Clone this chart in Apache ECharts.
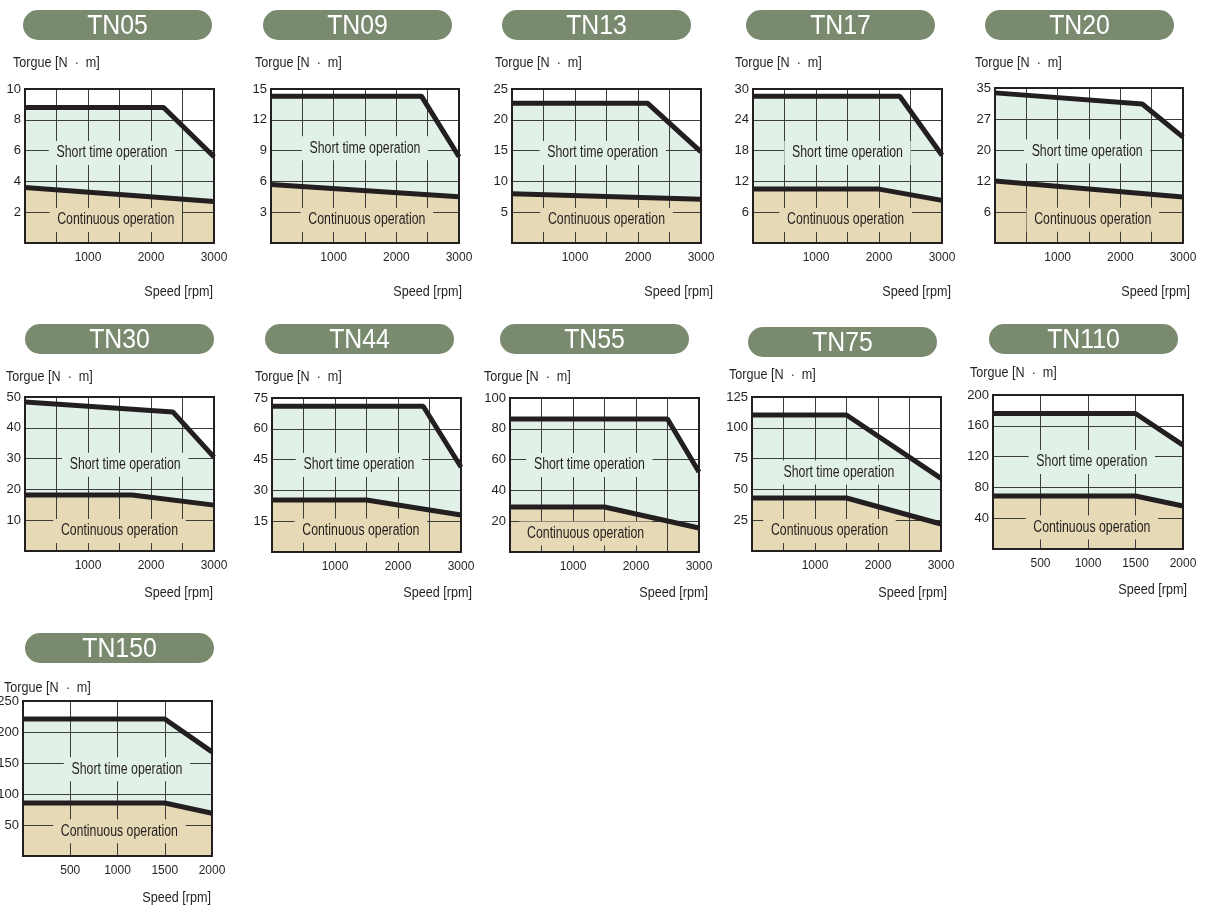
<!DOCTYPE html>
<html>
<head>
<meta charset="utf-8">
<title>TN torque curves</title>
<script src="https://cdn.jsdelivr.net/npm/echarts@6/dist/echarts.min.js"></script>
<style>
  html, body { margin: 0; padding: 0; background: #fff; }
  #main { width: 1208px; height: 908px; }
</style>
</head>
<body>
<div id="main"></div>
<script>
// --- data ---
const models = ['TN05', 'TN09', 'TN13', 'TN17', 'TN20', 'TN30', 'TN44', 'TN55', 'TN75', 'TN110', 'TN150'];
const maxSpeed = [3000, 3000, 3000, 3000, 3000, 3000, 3000, 3000, 3000, 2000, 2000];
const maxTorque = [10, 15, 25, 30, 35, 50, 75, 100, 125, 200, 250];
const torqueTicks = [
  ['2', '4', '6', '8', '10'],
  ['3', '6', '9', '12', '15'],
  ['5', '10', '15', '20', '25'],
  ['6', '12', '18', '24', '30'],
  ['6', '12', '20', '27', '35'],
  ['10', '20', '30', '40', '50'],
  ['15', '30', '45', '60', '75'],
  ['20', '40', '60', '80', '100'],
  ['25', '50', '75', '100', '125'],
  ['40', '80', '120', '160', '200'],
  ['50', '100', '150', '200', '250']
];
// short time operation limit  [speed, torque]
const shortTime = [
  [[0, 8.8], [2200, 8.8], [3000, 5.6]],
  [[0, 14.3], [2400, 14.3], [3000, 8.4]],
  [[0, 22.7], [2150, 22.7], [3000, 14.8]],
  [[0, 28.6], [2330, 28.6], [3000, 17.1]],
  [[0, 33.9], [2350, 31.4], [3000, 23.9]],
  [[0, 48.4], [2350, 45.1], [3000, 30.5]],
  [[0, 71], [2400, 71], [3000, 41.4]],
  [[0, 86.4], [2500, 86.4], [3000, 52]],
  [[0, 110.4], [1500, 110.4], [3000, 59]],
  [[0, 176], [1500, 176], [2000, 135]],
  [[0, 221], [1500, 221], [2000, 168]]
];
// continuous operation limit
const continuous = [
  [[0, 3.6], [3000, 2.7]],
  [[0, 5.7], [3000, 4.5]],
  [[0, 8.0], [3000, 7.1]],
  [[0, 10.5], [2000, 10.5], [3000, 8.3]],
  [[0, 14], [3000, 10.4]],
  [[0, 18.2], [1700, 18.2], [3000, 14.9]],
  [[0, 25.3], [1500, 25.3], [3000, 18]],
  [[0, 29.2], [1500, 29.2], [3000, 15.6]],
  [[0, 43], [1500, 43], [3000, 21.9]],
  [[0, 68.8], [1500, 68.8], [2000, 55.8]],
  [[0, 85.5], [1500, 85.5], [2000, 69]]
];

// --- layout (pixels) ---
// plot rect, pill top-left, unit label start, speed label right end, text anchors (fraction of plot)
const layout = [
  { x: 25, y: 89, w: 189, h: 154, pill: [23, 10], unit: [13, 63], speed: [213, 292], st: [0.46, 0.415], co: [0.48, 0.85] },
  { x: 271, y: 89, w: 188, h: 154, pill: [263, 10], unit: [255, 63], speed: [462, 292], st: [0.5, 0.385], co: [0.51, 0.85] },
  { x: 512, y: 89, w: 189, h: 154, pill: [502, 10], unit: [495, 63], speed: [713, 292], st: [0.48, 0.415], co: [0.5, 0.85] },
  { x: 753, y: 89, w: 189, h: 154, pill: [746, 10], unit: [735, 63], speed: [951, 292], st: [0.5, 0.415], co: [0.49, 0.85] },
  { x: 995, y: 88, w: 188, h: 155, pill: [985, 10], unit: [975, 63], speed: [1190, 292], st: [0.49, 0.41], co: [0.52, 0.85] },
  { x: 25, y: 397, w: 189, h: 154, pill: [25, 324], unit: [6, 377], speed: [213, 593], st: [0.53, 0.44], co: [0.5, 0.87] },
  { x: 272, y: 398, w: 189, h: 154, pill: [265, 324], unit: [255, 377], speed: [472, 593], st: [0.46, 0.435], co: [0.47, 0.86] },
  { x: 510, y: 398, w: 189, h: 154, pill: [500, 324], unit: [484, 377], speed: [708, 593], st: [0.42, 0.435], co: [0.4, 0.88] },
  { x: 752, y: 397, w: 189, h: 154, pill: [748, 327], unit: [729, 375], speed: [947, 593], st: [0.46, 0.49], co: [0.41, 0.87] },
  { x: 993, y: 395, w: 190, h: 154, pill: [989, 324], unit: [970, 373], speed: [1187, 590], st: [0.52, 0.435], co: [0.52, 0.86] },
  { x: 23, y: 701, w: 189, h: 155, pill: [25, 633], unit: [4, 688], speed: [211, 898], st: [0.55, 0.44], co: [0.51, 0.84] }
];

const INK = '#231f20';
const MINT = '#e2f1e7';
const TAN = '#e6d9b5';
const PILL = '#798a6f';
const FONT = "'Liberation Sans', Arial, sans-serif";

const chart = echarts.init(document.getElementById('main'));

const grids = [], xAxes = [], yAxes = [], series = [], graphics = [];

// condensed caption text (the print uses a narrow face)
function caption(x, y, text, size, squeeze, align, extra) {
  return {
    type: 'text', z: 10, x: x, y: y, scaleX: squeeze,
    style: Object.assign({ text: text, fill: INK, font: size + 'px ' + FONT, align: align, verticalAlign: 'middle' }, extra || {})
  };
}

models.forEach(function (name, i) {
  const l = layout[i];
  grids.push({
    left: l.x, top: l.y, width: l.w, height: l.h, outerBoundsMode: 'none', containLabel: false,
    show: true, borderColor: INK, borderWidth: 2, backgroundColor: 'transparent', z: 4
  });
  const labelStep = maxSpeed[i] > 2000 ? 1000 : 500;
  xAxes.push({
    gridIndex: i, type: 'value', min: 0, max: maxSpeed[i], interval: 500, z: 2,
    axisLine: { show: false }, axisTick: { show: false },
    splitLine: { show: true, lineStyle: { color: '#3c3c3c', width: 1 } },
    axisLabel: {
      margin: 9, fontSize: 12, color: INK, fontFamily: FONT,
      formatter: function (v) { return (v !== 0 && v % labelStep === 0) ? String(v) : ''; }
    }
  });
  const step = maxTorque[i] / 5;
  yAxes.push({
    gridIndex: i, type: 'value', min: 0, max: maxTorque[i], interval: step, z: 2,
    axisLine: { show: false }, axisTick: { show: false },
    splitLine: { show: true, lineStyle: { color: '#3c3c3c', width: 1 } },
    axisLabel: {
      margin: 4, fontSize: 13, color: INK, fontFamily: FONT,
      formatter: function (v) {
        const k = Math.round(v / step);
        return k > 0 ? torqueTicks[i][k - 1] : '';
      }
    }
  });

  // filled regions under the grid lines
  series.push({
    type: 'line', xAxisIndex: i, yAxisIndex: i, data: shortTime[i], symbol: 'none', z: 1,
    lineStyle: { width: 0 }, areaStyle: { color: MINT, opacity: 1 }, silent: true
  });
  series.push({
    type: 'line', xAxisIndex: i, yAxisIndex: i, data: continuous[i], symbol: 'none', z: 1,
    lineStyle: { width: 0 }, areaStyle: { color: TAN, opacity: 1 }, silent: true
  });
  // thick limit curves above the grid
  series.push({
    type: 'line', xAxisIndex: i, yAxisIndex: i, data: shortTime[i], symbol: 'none', z: 3,
    lineStyle: { width: 5, color: INK, cap: 'butt' }, silent: true
  });
  series.push({
    type: 'line', xAxisIndex: i, yAxisIndex: i, data: continuous[i], symbol: 'none', z: 3,
    lineStyle: { width: 5, color: INK, cap: 'butt' }, silent: true
  });

  // title pill
  graphics.push({
    type: 'rect', z: 10,
    shape: { x: l.pill[0], y: l.pill[1], width: 189, height: 30, r: 15 },
    style: { fill: PILL }
  });
  graphics.push({
    type: 'text', z: 11, x: l.pill[0] + 94.5, y: l.pill[1] + 17, scaleX: 0.92,
    style: { text: name, fill: '#fff', font: '27px ' + FONT, align: 'center', verticalAlign: 'middle' }
  });
  // axis captions
  graphics.push(caption(l.unit[0], l.unit[1], 'Torgue [N  ·  m]', 14, 0.9, 'left'));
  graphics.push(caption(l.speed[0], l.speed[1], 'Speed [rpm]', 14, 0.9, 'right'));
  // region captions
  graphics.push(caption(l.x + l.w * l.st[0], l.y + l.h * l.st[1], 'Short time operation', 16, 0.77, 'center',
    { backgroundColor: MINT, padding: [4, 10] }));
  graphics.push(caption(l.x + l.w * l.co[0], l.y + l.h * l.co[1], 'Continuous operation', 16, 0.77, 'center',
    { backgroundColor: TAN, padding: [4, 10] }));
});

chart.setOption({
  animation: false,
  grid: grids,
  xAxis: xAxes,
  yAxis: yAxes,
  series: series,
  graphic: { elements: graphics }
});
</script>
</body>
</html>
